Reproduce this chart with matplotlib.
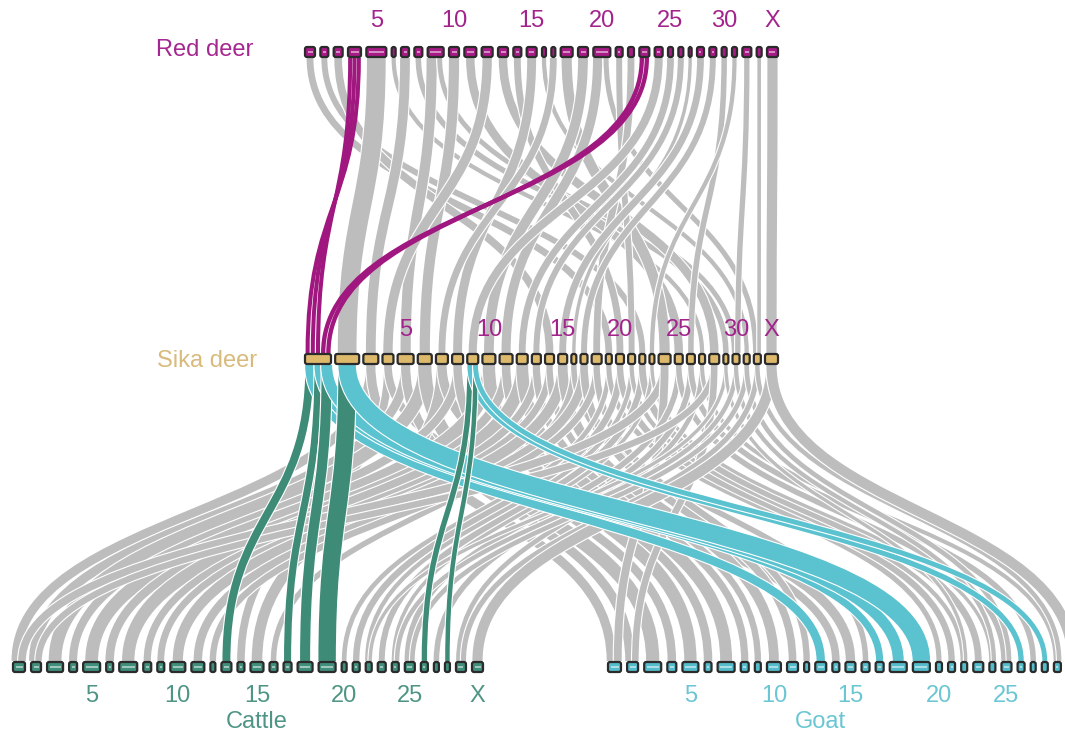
import numpy as np
import matplotlib
matplotlib.use("Agg")
import matplotlib.pyplot as plt
import matplotlib.patheffects as pe
from matplotlib.path import Path
from matplotlib.patches import PathPatch, FancyBboxPatch

plt.rcParams['font.family'] = ['Liberation Sans', 'DejaVu Sans']

# ---------------------------------------------------------------------------
# karyotypes: drawn box width of every chromosome (last one is X)
# ---------------------------------------------------------------------------
red_deer_sizes = [10, 8, 9, 13, 20, 4, 8, 8, 16, 10, 12, 11, 10, 8, 10, 4, 4,
                  12, 10, 17, 7, 6, 10, 8, 5, 5, 3, 7, 7, 5, 5, 9, 5, 11]
sika_sizes = [26, 24, 15, 11, 16, 14, 12, 11, 11, 13, 13, 11, 9, 9, 9, 5, 7,
              10, 6, 8, 7, 6, 5, 12, 8, 8, 6, 10, 5, 7, 6, 7, 13]
cattle_sizes = [12, 10, 16, 8, 17, 7, 18, 8, 7, 15, 13, 5, 10, 7, 13, 8, 8,
                15, 17, 5, 7, 6, 8, 7, 10, 7, 5, 5, 10, 11]
goat_sizes = [13, 11, 17, 9, 16, 7, 17, 8, 6, 14, 11, 5, 11, 7, 10, 8, 8,
              17, 17, 6, 7, 6, 10, 6, 10, 7, 5, 6, 7, 11]

deer_ticks = ["5", "10", "15", "20", "25", "30", "X"]
deer_tick_chr = [5, 10, 15, 20, 25, 30, -1]
bovid_ticks = ["5", "10", "15", "20", "25", "X"]
bovid_tick_chr = [5, 10, 15, 20, 25, -1]
goat_ticks = ["5", "10", "15", "20", "25"]
goat_tick_chr = [5, 10, 15, 20, 25]

# synteny blocks: (red deer chr, sika chr); sika 33 = X, red deer 34 = X
red_sika = [(1, 19), (2, 22), (3, 14), (4, 1), (4, 1), (4, 1), (5, 2),
            (6, 27), (7, 3), (8, 29), (9, 5), (9, 30), (10, 6), (11, 25),
            (12, 4), (13, 28), (14, 20), (15, 8), (16, 31), (17, 7), (18, 24),
            (19, 10), (20, 11), (20, 32), (21, 21), (22, 18), (23, 1), (23, 1),
            (24, 9), (25, 12), (26, 13), (27, 16), (28, 15), (29, 17),
            (30, 26), (31, 23), (32, 30), (33, 32), (34, 33)]
# (sika chr, bovid chr) -- same block drawn to cattle and to goat; 30 = X
sika_bovid = [(1, 13), (1, 17), (1, 18), (2, 19), (3, 1), (4, 14), (5, 2),
              (6, 3), (7, 15), (8, 4), (9, 26), (9, 28), (10, 5), (11, 6),
              (12, 7), (13, 8), (14, 9), (15, 10), (16, 16), (17, 11),
              (18, 12), (19, 20), (20, 21), (21, 22), (22, 23), (23, 24),
              (24, 1), (25, 25), (26, 27), (27, 29), (28, 2), (29, 22),
              (30, 24), (31, 25), (32, 29), (33, 30)]
sika_focus = [1]
bovid_focus = [13, 17, 18, 19, 26, 28]

MAGENTA = "#A0177F"
TEAL = "#3E8B77"
CYAN = "#5BC2D0"
TAN = "#DDB96C"
GRAY = "#BDBDBD"
PX = 0.72  # points per pixel at 100 dpi


def layout(sizes, x0, x1):
    sizes = np.asarray(sizes, float)
    gap = (x1 - x0 - sizes.sum()) / (len(sizes) - 1)
    lefts = x0 + np.concatenate([[0], np.cumsum(sizes[:-1] + gap)])
    return lefts, sizes


rd_l, rd_w = layout(red_deer_sizes, 305, 778)
sk_l, sk_w = layout(sika_sizes, 305, 778)
ca_l, ca_w = layout(cattle_sizes, 13, 483)
gt_l, gt_w = layout(goat_sizes, 608, 1078)

Y_RD, Y_SK, Y_BV = 52, 359, 667
H = 10


def centre(l, w, c):
    return l[c - 1] + w[c - 1] / 2


def split(own, other_x, lefts, widths, flip):
    """centre and width of the share of the own chromosome for every link"""
    seg = {}
    for c in set(own):
        idx = [i for i, o in enumerate(own) if o == c]
        idx.sort(key=lambda i: (other_x[i], -i if flip else i))
        step = widths[c - 1] / len(idx)
        for k, i in enumerate(idx):
            seg[i] = (lefts[c - 1] + (k + 0.5) * step, step)
    return seg


def ribbon(ax, top, y0, bot, y1, color, z, edge=True):
    ym = (y0 + y1) / 2
    x0, x1 = top[0], bot[0]
    lw = 0.85 * (top[1] + bot[1]) / 2 * PX
    path = Path([(x0, y0), (x0, ym), (x1, ym), (x1, y1)],
                [Path.MOVETO, Path.CURVE4, Path.CURVE4, Path.CURVE4])
    p = PathPatch(path, fill=False, ec=color, lw=lw, capstyle="butt", zorder=z)
    if edge:
        p.set_path_effects([pe.Stroke(linewidth=lw + 1.6, foreground="white"),
                            pe.Normal()])
    ax.add_patch(p)


def track(ax, lefts, widths, y, color, stripe):
    for l, w in zip(lefts, widths):
        ax.add_patch(FancyBboxPatch((l, y - H / 2), w, H,
                                    boxstyle="round,pad=0,rounding_size=2",
                                    fc=color, ec="#2b2b2b", lw=1.6, zorder=5))
        if stripe and w > 6:
            ax.add_patch(plt.Rectangle((l + 2.5, y - 1.2), w - 5, 2.4,
                                       fc="white", alpha=0.5, lw=0, zorder=6))


fig = plt.figure(figsize=(10.65, 7.42), dpi=100)
ax = fig.add_axes([0, 0, 1, 1])
ax.set_xlim(0, 1065)
ax.set_ylim(742, 0)
ax.axis("off")

# red deer -> sika deer
rd_own = [a for a, b in red_sika]
sk_own = [b for a, b in red_sika]
rd_seg = split(rd_own, [centre(sk_l, sk_w, b) for b in sk_own], rd_l, rd_w, False)
sk_seg = split(sk_own, [centre(rd_l, rd_w, a) for a in rd_own], sk_l, sk_w, True)
for i, (a, b) in enumerate(red_sika):
    hot = b in sika_focus
    ribbon(ax, rd_seg[i], Y_RD + H / 2 + 1, sk_seg[i], Y_SK - H / 2 - 1,
           MAGENTA if hot else GRAY, 3 if hot else 1, edge=not hot)

# sika deer -> cattle / goat
s_own = [a for a, b in sika_bovid]
b_own = [b for a, b in sika_bovid]
s_seg = split(s_own, [centre(ca_l, ca_w, b) for b in b_own], sk_l, sk_w, False)
s_x = [centre(sk_l, sk_w, a) for a in s_own]
c_seg = split(b_own, s_x, ca_l, ca_w, False)
g_seg = split(b_own, s_x, gt_l, gt_w, False)
for i, (a, b) in enumerate(sika_bovid):
    hot = b in bovid_focus
    ribbon(ax, s_seg[i], Y_SK + H / 2 + 1, c_seg[i], Y_BV - H / 2 - 1,
           TEAL if hot else GRAY, 3 if hot else 1)
    ribbon(ax, s_seg[i], Y_SK + H / 2 + 1, g_seg[i], Y_BV - H / 2 - 1,
           CYAN if hot else GRAY, 3 if hot else 1)

track(ax, rd_l, rd_w, Y_RD, "#A81B86", True)
track(ax, sk_l, sk_w, Y_SK, TAN, False)
track(ax, ca_l, ca_w, Y_BV, "#3F8F7C", True)
track(ax, gt_l, gt_w, Y_BV, "#55BCCB", True)

fs = 17
num_deer = "#A3238D"
for lab, c in zip(deer_ticks, deer_tick_chr):
    ax.text(centre(rd_l, rd_w, c if c > 0 else len(rd_w)), 21, lab,
            color=num_deer, fontsize=fs, ha="center", va="center")
    ax.text(centre(sk_l, sk_w, c if c > 0 else len(sk_w)), 330, lab,
            color=num_deer, fontsize=fs, ha="center", va="center")
for lab, c in zip(bovid_ticks, bovid_tick_chr):
    ax.text(centre(ca_l, ca_w, c if c > 0 else len(ca_w)), 696, lab,
            color="#4E9585", fontsize=fs, ha="center", va="center")
for lab, c in zip(goat_ticks, goat_tick_chr):
    ax.text(centre(gt_l, gt_w, c), 696, lab,
            color="#6BC6D3", fontsize=fs, ha="center", va="center")

ax.text(205, 50, "Red deer", color="#A52790", fontsize=fs, ha="center", va="center")
ax.text(207, 361, "Sika deer", color="#D8BB7C", fontsize=fs, ha="center", va="center")
ax.text(257, 722, "Cattle", color="#4E9585", fontsize=fs, ha="center", va="center")
ax.text(820, 722, "Goat", color="#6BC6D3", fontsize=fs, ha="center", va="center")

fig.savefig("out.png", dpi=100)
